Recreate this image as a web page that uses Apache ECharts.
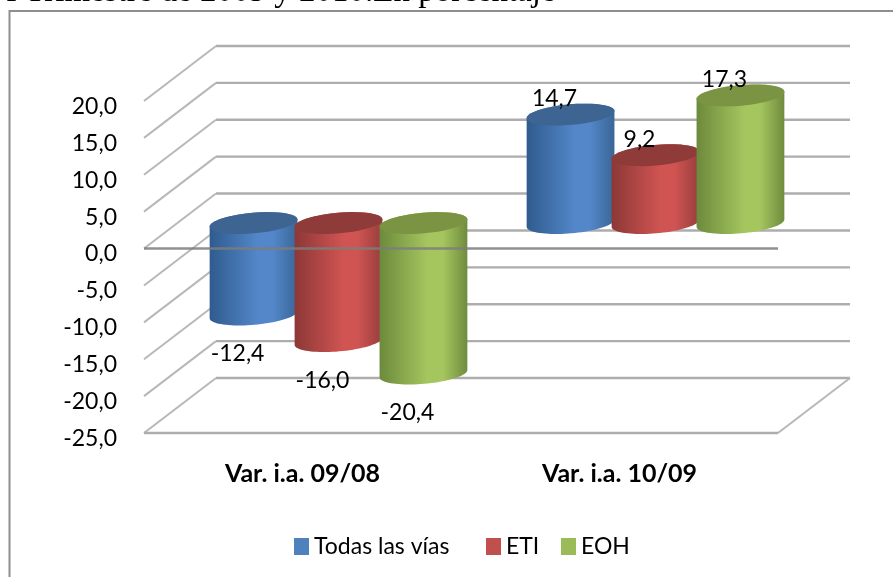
<!DOCTYPE html>
<html>
<head>
<meta charset="utf-8">
<style>html,body{margin:0;padding:0;background:#fff;overflow:hidden}#c{width:893px;height:577px}</style>
<script src="https://cdn.jsdelivr.net/npm/echarts@6/dist/echarts.min.js"></script>
</head>
<body>
<div id="c"></div>
<script>
var categories = ['Var. i.a. 09/08', 'Var. i.a. 10/09'];
var seriesNames = ['Todas las vías', 'ETI', 'EOH'];
var todasValues = [-12.4, 14.7];
var etiValues = [-16.0, 9.2];
var eohValues = [-20.4, 17.3];
var tickValues = [-25, -20, -15, -10, -5, 0, 5, 10, 15, 20];
var titleText = 'I Trimestre de 2009 y 2010.En porcentaje';

var DEPTH_X = 72, DEPTH_Y = -55;
var FONT = 'Lato';
var palette = [
  {legend:'#4f81bd', top:'#3e6592', edge:'#2f5b8e', mid:'#5387c9', edge2:'#3a6697'},
  {legend:'#c0504d', top:'#8f3b39', edge:'#8c3836', mid:'#cf5452', edge2:'#963e3c'},
  {legend:'#9bbb59', top:'#7a9443', edge:'#6c8a3c', mid:'#a5c65f', edge2:'#6f8c3e'}
];

function ellipsePoint(cx, cy, a, b, rot, t) {
  var x = a * Math.cos(t), y = b * Math.sin(t);
  return [cx + x * Math.cos(rot) - y * Math.sin(rot), cy + x * Math.sin(rot) + y * Math.cos(rot)];
}
function arc(cx, cy, a, b, rot, t0, t1) {
  var pts = [], n = 40;
  for (var i = 0; i <= n; i++) pts.push(ellipsePoint(cx, cy, a, b, rot, t0 + (t1 - t0) * i / n));
  return pts;
}

function cylinderSeries(idx, values) {
  var p = palette[idx];
  return {
    type: 'custom', name: seriesNames[idx], z: 3 + idx,
    itemStyle: {color: p.legend},
    encode: {x: 0, y: 1},
    data: values.map(function (v, i) { return [i, v]; }),
    renderItem: function (params, api) {
      var cat = api.value(0), v = api.value(1);
      var band = api.size([1, 0])[0];
      var pitch = band * 0.268, a = band * 0.139, b = 10.3, rot = -5 * Math.PI / 180;
      var base = api.coord([cat, 0]), end = api.coord([cat, v]);
      var cx = base[0] + DEPTH_X / 2 + (idx - 1) * pitch;
      var yBase = base[1] + DEPTH_Y / 2 + 2, yEnd = end[1] + DEPTH_Y / 2 + 2;
      var yTop = Math.min(yBase, yEnd), yBot = Math.max(yBase, yEnd);
      var body = arc(cx, yBot, a, b, rot, 0, Math.PI).concat(arc(cx, yTop, a, b, rot, Math.PI, 2 * Math.PI));
      var label = String(Math.abs(v).toFixed(1)).replace('.', ',');
      if (v < 0) label = '-' + label;
      return {
        type: 'group',
        children: [
          {type: 'polygon', shape: {points: body}, style: {fill: {
            type: 'linear', x: 0, y: 0, x2: 1, y2: 0,
            colorStops: [{offset: 0, color: p.edge}, {offset: 0.55, color: p.mid}, {offset: 0.72, color: p.mid}, {offset: 1, color: p.edge2}]
          }}},
          {type: 'polygon', shape: {points: arc(cx, yTop, a, b, rot, 0, 2 * Math.PI)}, style: {fill: p.top}},
          {type: 'text', x: cx - 16, y: v < 0 ? yEnd + 39 : yEnd - 16, z2: 50,
            style: {text: label, font: '400 23px ' + FONT, fill: '#000', align: 'center', verticalAlign: 'middle'}}
        ]
      };
    }
  };
}

var planeSeries = {
  type: 'custom', silent: true, z: 1, legendHoverLink: false,
  encode: {x: 0, y: 1},
  data: tickValues.map(function (v) { return [0, v]; }),
  renderItem: function (params, api) {
    var v = api.value(1), cs = params.coordSys;
    var y = api.coord([0, v])[1];
    var x0 = cs.x, x1 = cs.x + cs.width;
    var line = function (ax, ay, bx, by, w, c) {
      return {type: 'line', shape: {x1: ax, y1: ay, x2: bx, y2: by}, style: {stroke: c, lineWidth: w}};
    };
    var ch = [
      line(x0, y, x0 + DEPTH_X, y + DEPTH_Y, 2, '#b8b8b8'),
      line(x0 + DEPTH_X, y + DEPTH_Y, x1 + DEPTH_X, y + DEPTH_Y, 2.4, '#adadad')
    ];
    if (v === tickValues[0]) {
      ch.push(line(x1, y, x1 + DEPTH_X, y + DEPTH_Y, 2, '#b8b8b8'));
      ch.push(line(x0, y, x1, y, 2.4, '#adadad'));
    }
    return {type: 'group', children: ch};
  }
};

var zeroLineSeries = {
  type: 'custom', silent: true, z: 10,
  encode: {x: 0, y: 1},
  data: [[0, 0]],
  renderItem: function (params, api) {
    var cs = params.coordSys, y = api.coord([0, 0])[1];
    return {type: 'line', shape: {x1: cs.x, y1: y, x2: cs.x + cs.width, y2: y},
      style: {stroke: 'rgba(125,125,125,0.85)', lineWidth: 2.5}};
  }
};

function legendFor(name, left) {
  return {
    data: [name], left: left, top: 530, itemWidth: 15, itemHeight: 17,
    icon: 'rect', selectedMode: false,
    textStyle: {fontFamily: FONT, fontSize: 23, color: '#000'}
  };
}

var chart = echarts.init(document.getElementById('c'), null, {renderer: 'canvas'});
chart.setOption({
  animation: false,
  backgroundColor: '#fff',
  grid: {left: 144, right: 115, top: 101, bottom: 144, containLabel: false},
  legend: [legendFor(seriesNames[0], 289), legendFor(seriesNames[1], 481), legendFor(seriesNames[2], 556)],
  xAxis: {
    type: 'category', data: categories,
    axisLine: {show: false}, axisTick: {show: false}, splitLine: {show: false},
    axisLabel: {fontFamily: FONT, fontWeight: 'bold', fontSize: 25, color: '#000', margin: 28}
  },
  yAxis: {
    type: 'value', min: -25, max: 20, interval: 5,
    axisLine: {show: false}, axisTick: {show: false}, splitLine: {show: false},
    axisLabel: {fontFamily: FONT, fontSize: 23, color: '#000', margin: 27, verticalAlign: 'top', lineHeight: 11,
      formatter: function (v) { return v.toFixed(1).replace('.', ','); }}
  },
  graphic: [
    {type: 'polyline', silent: true, shape: {points: [[9.5, 577], [9.5, 11], [893, 11]]},
      style: {stroke: '#8e8e8e', lineWidth: 2, fill: null}},
    {type: 'text', x: 6, y: 9, silent: true,
      style: {text: titleText, font: '33px "Liberation Serif"', fill: '#000', align: 'left', verticalAlign: 'bottom'}}
  ],
  series: [planeSeries, cylinderSeries(0, todasValues), cylinderSeries(1, etiValues), cylinderSeries(2, eohValues), zeroLineSeries]
});
</script>
</body>
</html>
